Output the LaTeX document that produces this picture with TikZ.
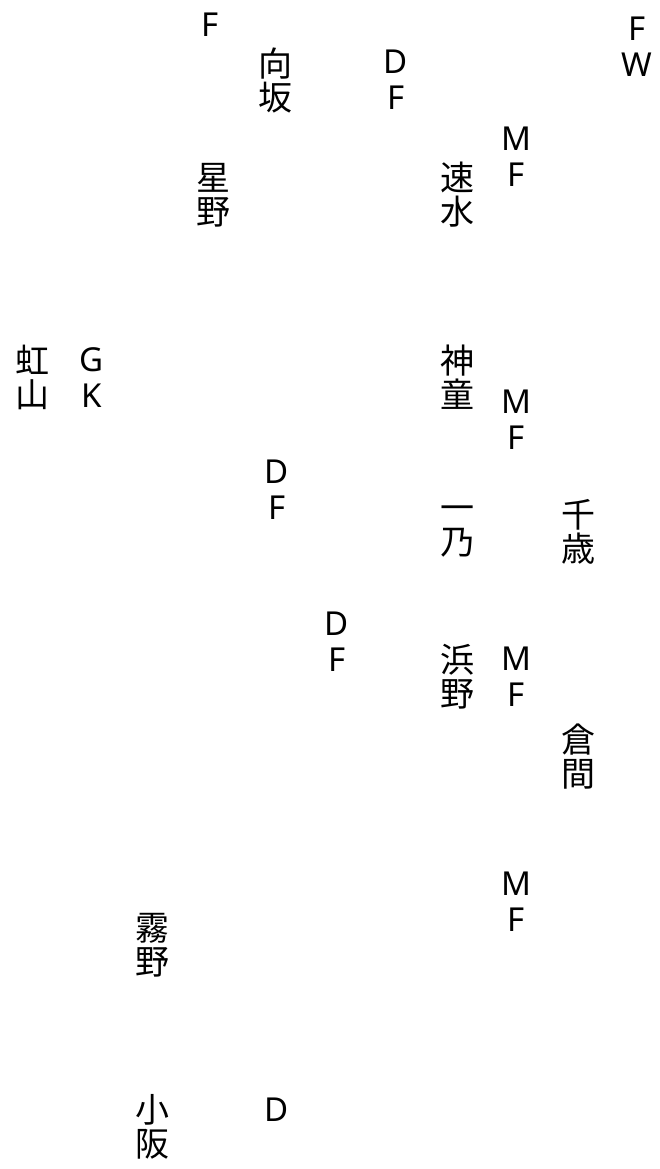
\documentclass[tikz,border=0pt]{standalone}
\usepackage{fontspec}
\setmainfont{Noto Sans}
\newfontfamily\cjkfont{Noto Sans CJK JP}
\begin{document}
\begin{tikzpicture}[x=1pt,y=-1pt,
  lbl/.style={inner sep=0pt,align=center,font=\fontsize{33}{36}\selectfont},
  cjk/.style={lbl,font=\fontsize{34}{34}\cjkfont}]
\useasboundingbox (0,0) rectangle (659,1169);
\node[lbl] (f1) at (210,25) {F};
\node[cjk] (mukaisaka) at (275,80) {向\\坂};
\node[lbl] (df1) at (396,80) {D\\F};
\node[lbl] (fw) at (637,47) {F\\W};
\node[lbl] (mf1) at (516,157) {M\\F};
\node[cjk] (hayami) at (457,195) {速\\水};
\node[cjk] (hoshino) at (213,195) {星\\野};
\node[cjk] (nijiyama) at (33,377) {虹\\山};
\node[lbl] (gk) at (92,378) {G\\K};
\node[cjk] (jindo) at (457,377) {神\\童};
\node[lbl] (mf2) at (516,420) {M\\F};
\node[lbl] (df2) at (277,490) {D\\F};
\node[cjk] (ichino) at (457,532) {一\\乃};
\node[cjk] (chitose) at (578,532) {千\\歳};
\node[lbl] (df3) at (337,642) {D\\F};
\node[cjk] (hamano) at (457,677) {浜\\野};
\node[lbl] (mf3) at (516,677) {M\\F};
\node[cjk] (kurama) at (578,757) {倉\\間};
\node[lbl] (mf4) at (516,902) {M\\F};
\node[cjk] (kirino) at (152,945) {霧\\野};
\node[cjk] (kosaka) at (152,1127) {小\\阪};
\node[lbl] (d1) at (277,1110) {D};
\end{tikzpicture}
\end{document}
